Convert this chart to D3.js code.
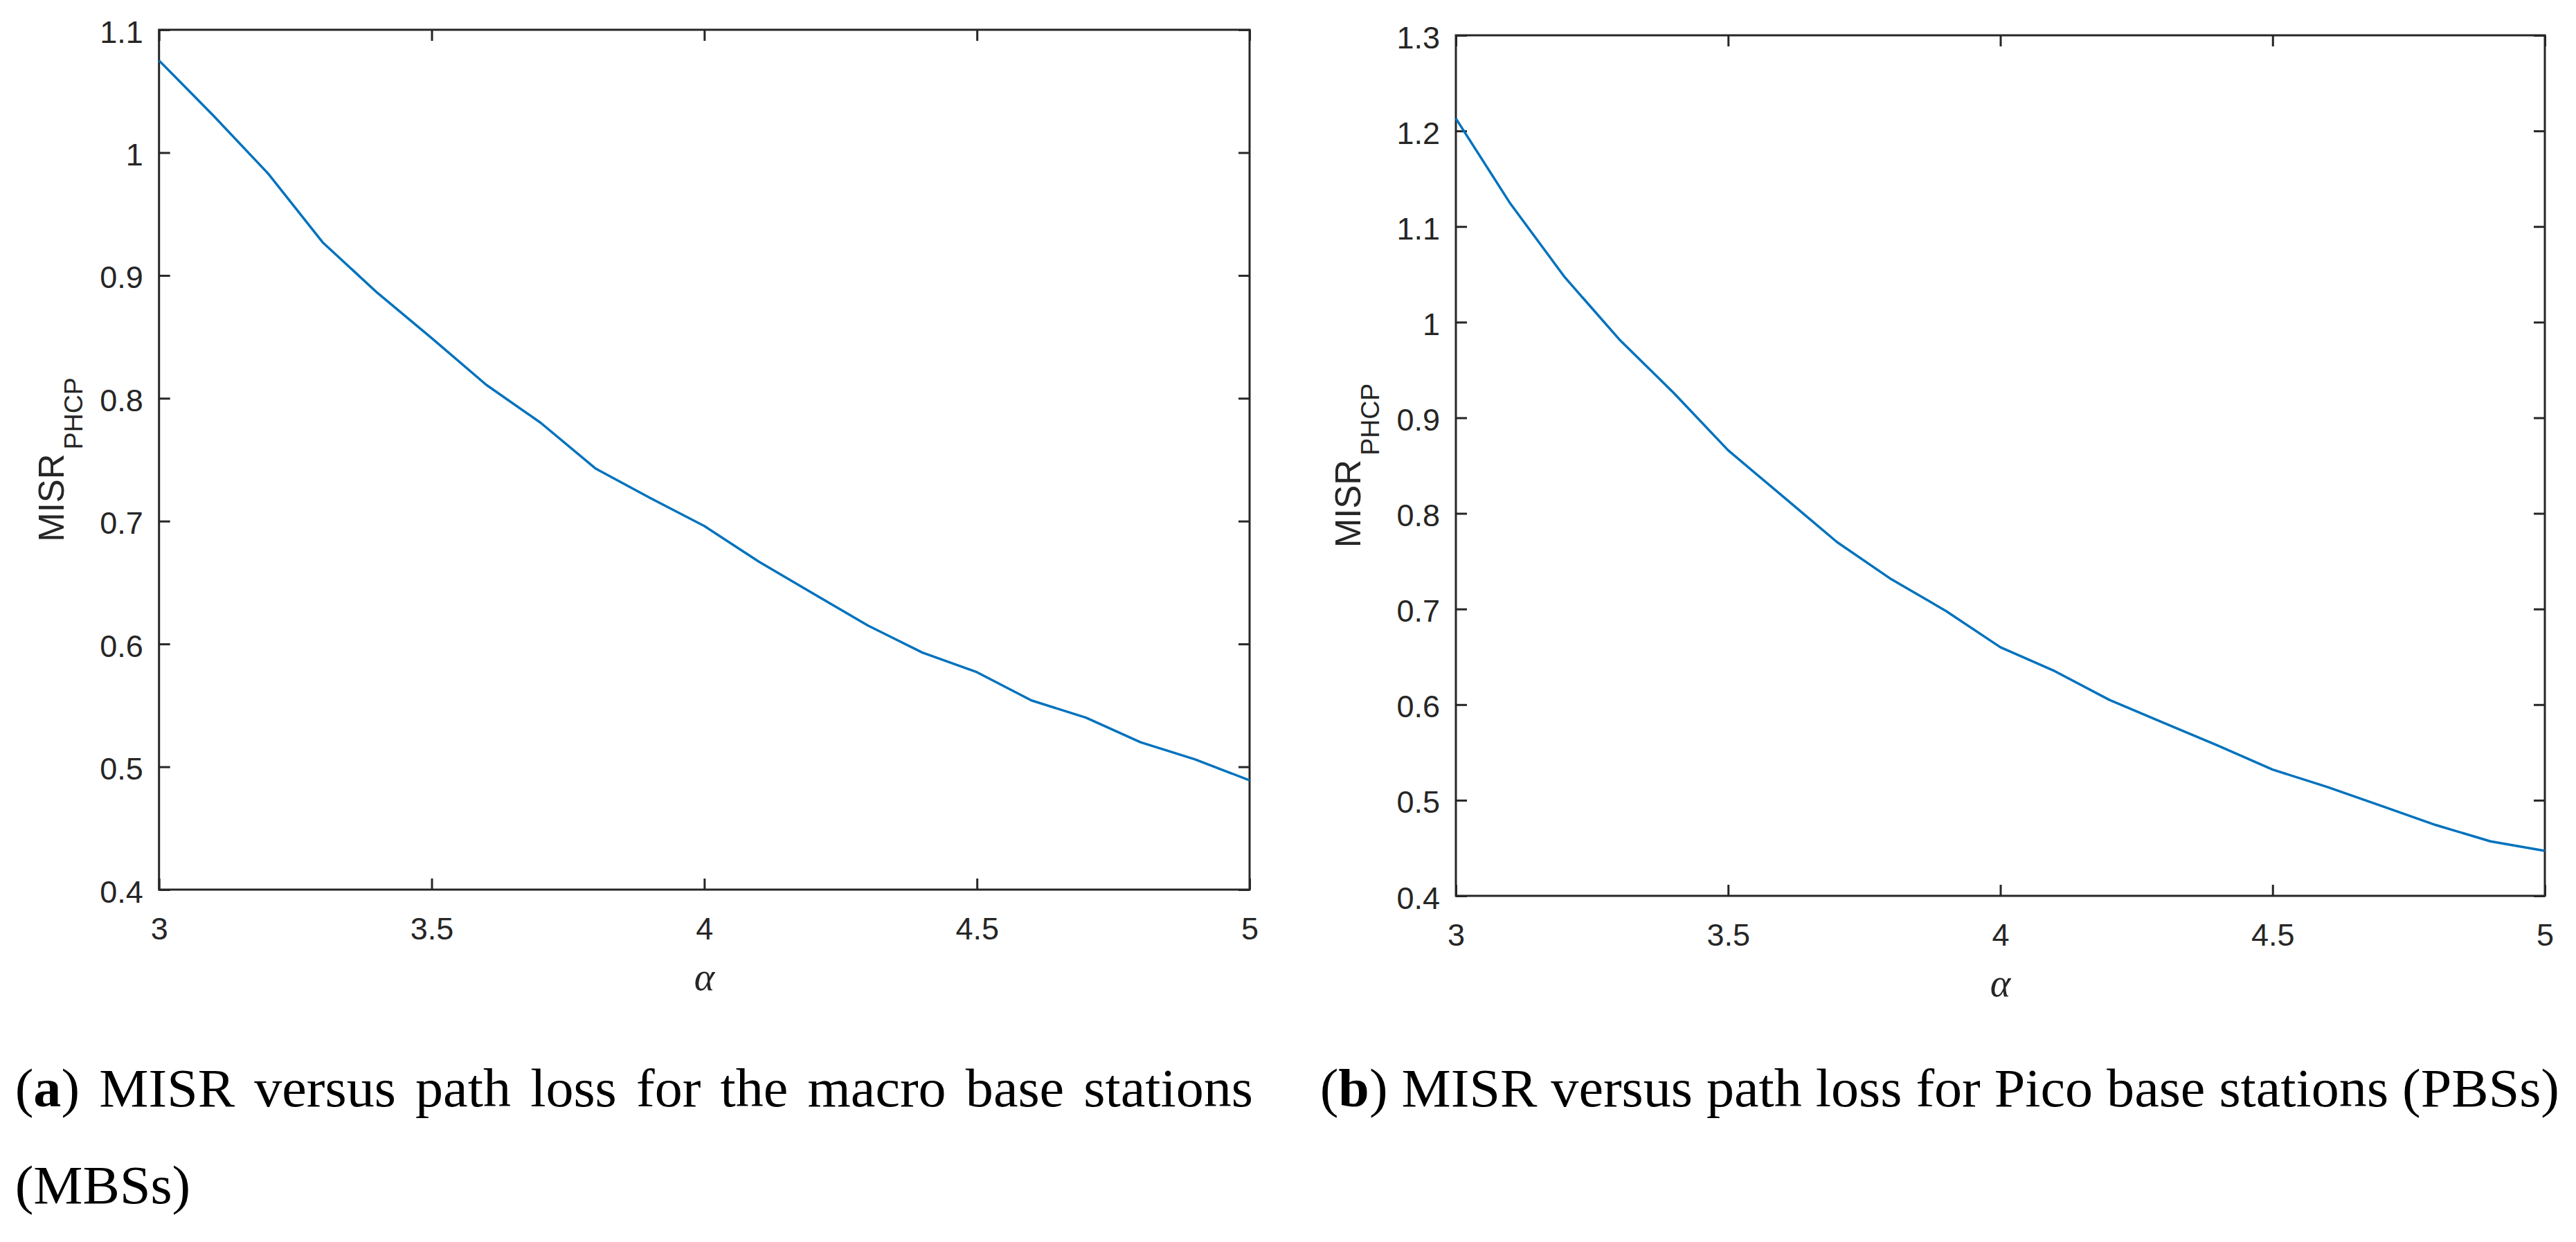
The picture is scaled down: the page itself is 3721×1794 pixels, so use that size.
<!DOCTYPE html>
<html>
<head>
<meta charset="utf-8">
<script src="https://cdn.jsdelivr.net/npm/d3@7"></script>
<style>
  body { margin: 0; background: #fff; }
</style>
</head>
<body>
<svg id="fig" width="3721" height="1794"></svg>
<script>
// values
const alpha = [3.0, 3.1, 3.2, 3.3, 3.4, 3.5, 3.6, 3.7, 3.8, 3.9, 4.0,
               4.1, 4.2, 4.3, 4.4, 4.5, 4.6, 4.7, 4.8, 4.9, 5.0];
const misrMBS = [1.075, 1.030, 0.983, 0.927, 0.886, 0.849, 0.811, 0.780, 0.743, 0.719, 0.696,
                 0.667, 0.641, 0.615, 0.593, 0.577, 0.554, 0.540, 0.520, 0.506, 0.489];
const misrPBS = [1.213, 1.124, 1.047, 0.982, 0.926, 0.866, 0.818, 0.770, 0.731, 0.698, 0.660,
                 0.635, 0.605, 0.581, 0.557, 0.532, 0.514, 0.494, 0.474, 0.457, 0.447];
const xTicks = [3, 3.5, 4, 4.5, 5];
const yTicksMBS = [0.4, 0.5, 0.6, 0.7, 0.8, 0.9, 1.0, 1.1];
const yTicksPBS = [0.4, 0.5, 0.6, 0.7, 0.8, 0.9, 1.0, 1.1, 1.2, 1.3];
const captionA1 = ["(a)", "MISR", "versus", "path", "loss", "for", "the", "macro", "base", "stations"];
const captionA2 = ["(MBSs)"];
const captionB = ["(b)", "MISR", "versus", "path", "loss", "for", "Pico", "base", "stations", "(PBSs)"];

const svg = d3.select("#fig");
svg.append("rect").attr("width", 3721).attr("height", 1794).attr("fill", "#fff");

const axisColor = "#262626";
const tickFont = "'Liberation Sans', Arial, sans-serif";
const serif = "'Liberation Serif', 'Times New Roman', serif";

function panel(box, values, yTicks) {
  const x = d3.scaleLinear().domain([3, 5]).range([box.left, box.right]);
  const y = d3.scaleLinear().domain([yTicks[0], yTicks[yTicks.length - 1]]).range([box.bottom, box.top]);
  const g = svg.append("g");
  const tl = 16;

  const fmt = d => String(+d.toFixed(1));

  const styleAxis = sel => {
    sel.select(".domain").remove();
    sel.selectAll(".tick line").attr("stroke", axisColor).attr("stroke-width", 3);
    sel.selectAll(".tick text")
      .attr("fill", axisColor)
      .style("font-family", tickFont)
      .style("font-size", "45px");
  };

  g.append("g").attr("transform", `translate(0,${box.bottom})`)
    .call(d3.axisBottom(x).tickValues(xTicks).tickFormat(fmt).tickSizeInner(-tl).tickSizeOuter(0).tickPadding(40))
    .call(styleAxis);
  g.append("g").attr("transform", `translate(0,${box.top})`)
    .call(d3.axisTop(x).tickValues(xTicks).tickFormat("").tickSizeInner(-tl).tickSizeOuter(0))
    .call(styleAxis);
  g.append("g").attr("transform", `translate(${box.left},0)`)
    .call(d3.axisLeft(y).tickValues(yTicks).tickFormat(fmt).tickSizeInner(-tl).tickSizeOuter(0).tickPadding(23))
    .call(styleAxis)
    .selectAll(".tick text").attr("dy", "0.4em");
  g.append("g").attr("transform", `translate(${box.right},0)`)
    .call(d3.axisRight(y).tickValues(yTicks).tickFormat("").tickSizeInner(-tl).tickSizeOuter(0))
    .call(styleAxis);

  g.append("rect")
    .attr("x", box.left).attr("y", box.top)
    .attr("width", box.right - box.left).attr("height", box.bottom - box.top)
    .attr("fill", "none").attr("stroke", axisColor).attr("stroke-width", 3);

  const line = d3.line().x((d, i) => x(alpha[i])).y(d => y(d));
  g.append("path").datum(values)
    .attr("d", line)
    .attr("fill", "none")
    .attr("stroke", "#0072BD")
    .attr("stroke-width", 3.5)
    .attr("stroke-linejoin", "round");

  // x label
  g.append("text")
    .attr("x", (box.left + box.right) / 2)
    .attr("y", box.bottom + 145)
    .attr("text-anchor", "middle")
    .attr("fill", axisColor)
    .style("font-family", serif)
    .style("font-style", "italic")
    .style("font-size", "56px")
    .text("α");

  // y label
  const yl = g.append("text")
    .attr("transform", `translate(${box.left - 138},${(box.top + box.bottom) / 2}) rotate(-90)`)
    .attr("text-anchor", "middle")
    .attr("fill", axisColor)
    .style("font-family", tickFont)
    .style("font-size", "51px");
  yl.append("tspan").text("MISR");
  yl.append("tspan").attr("dx", 6).attr("dy", 27).style("font-size", "37.5px").text("PHCP");
}

panel({ left: 229.7, right: 1805, top: 43, bottom: 1285 }, misrMBS, yTicksMBS);
panel({ left: 2103, right: 3676, top: 51, bottom: 1294 }, misrPBS, yTicksPBS);

// captions: serif text, word positions justified to the column width
const capSize = 78;
const capG = svg.append("g")
  .style("font-family", serif)
  .style("font-size", capSize + "px")
  .attr("fill", "#000");

function addWord(word, xPos, yPos) {
  const t = capG.append("text").attr("x", xPos).attr("y", yPos);
  const m = word.match(/^\((a|b)\)$/);
  if (m) {
    t.append("tspan").text("(");
    t.append("tspan").style("font-weight", "bold").text(m[1]);
    t.append("tspan").text(")");
  } else {
    t.text(word);
  }
  return t;
}

function layoutLine(words, x0, x1, yPos, k, justify) {
  const texts = words.map(w => addWord(w, 0, yPos));
  const widths = texts.map(t => t.node().getComputedTextLength() * k);
  const total = d3.sum(widths);
  const gap = justify && words.length > 1
    ? (x1 - x0 - total) / (words.length - 1)
    : capSize * 0.25 * k;
  let cx = x0;
  texts.forEach((t, i) => {
    t.attr("x", cx).attr("textLength", widths[i]).attr("lengthAdjust", "spacingAndGlyphs");
    cx += widths[i] + gap;
  });
}

// horizontal scale so that caption (b) fills its column
const probe = captionB.map(w => addWord(w, 0, -500));
const natB = d3.sum(probe, t => t.node().getComputedTextLength()) + (captionB.length - 1) * capSize * 0.25;
probe.forEach(t => t.remove());
const k = (3697 - 1906.7) / natB;

layoutLine(captionA1, 21.7, 1810, 1597.7, k, true);
layoutLine(captionA2, 21.7, 1810, 1738, k, false);
layoutLine(captionB, 1906.7, 3697, 1597.7, k, true);
</script>
</body>
</html>
